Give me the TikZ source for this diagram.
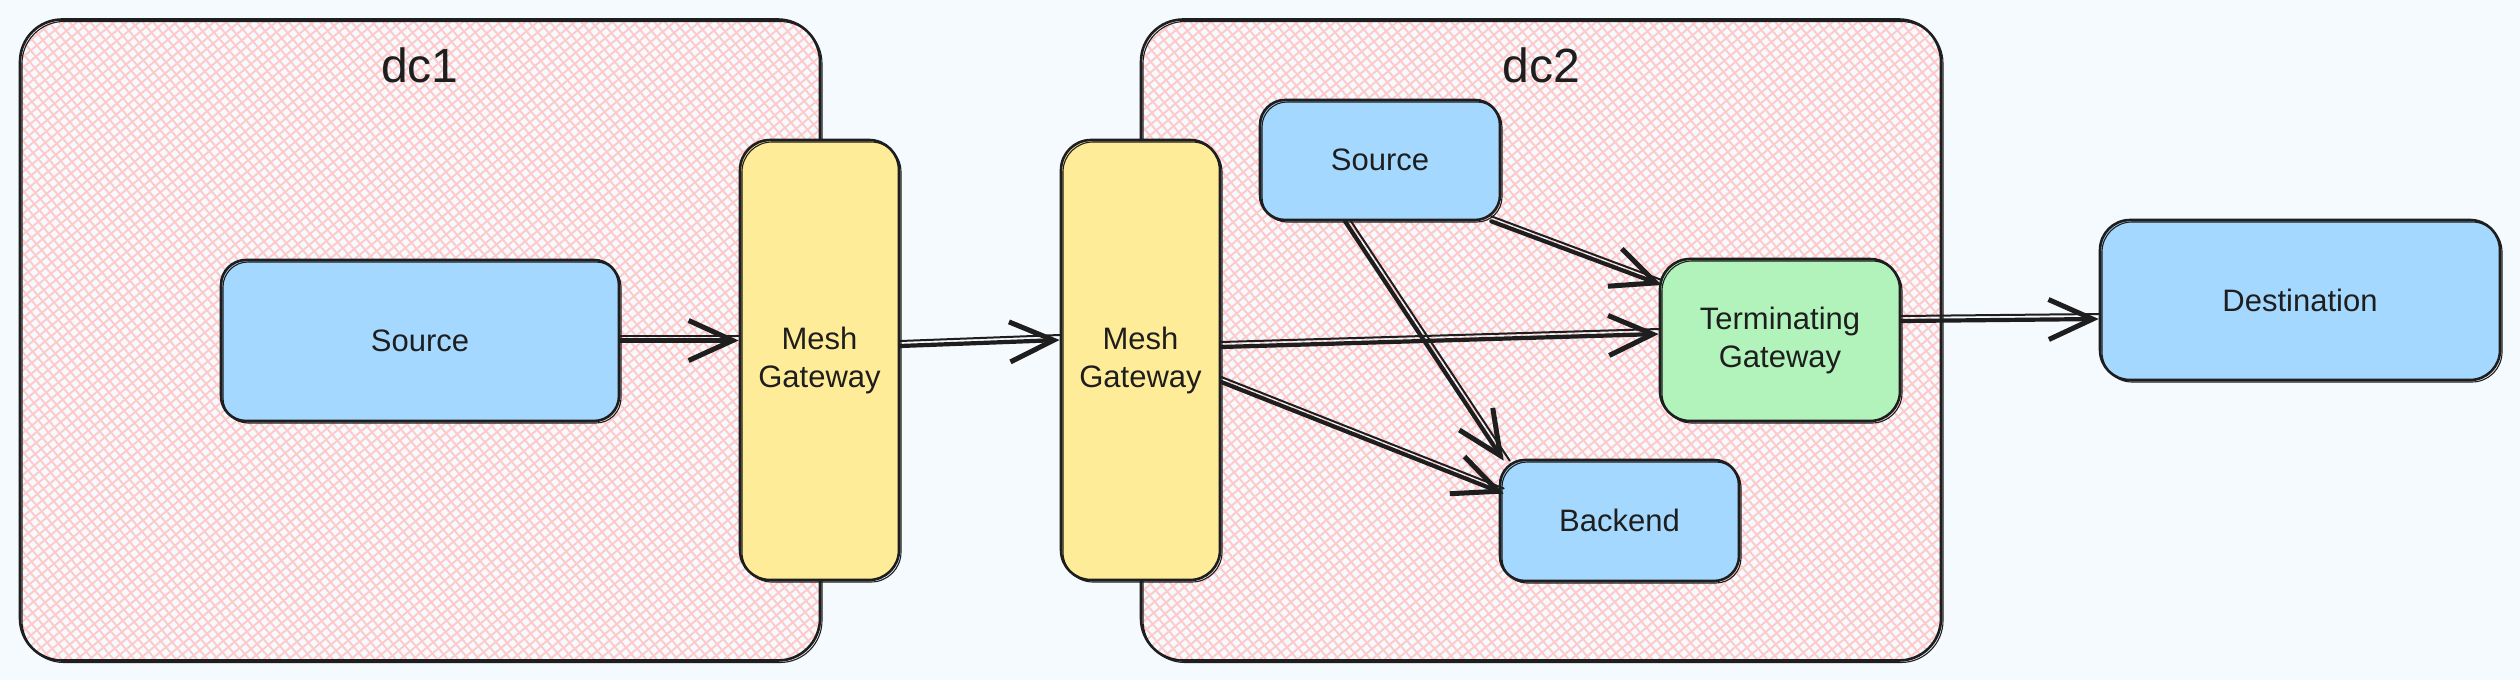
\documentclass[tikz,border=0pt]{standalone}
\usepackage{fontspec}
\setmainfont{Liberation Sans}
\usetikzlibrary{arrows.meta,calc}
\definecolor{ink}{HTML}{1E1E1E}
\definecolor{bg}{HTML}{F5FAFF}
\definecolor{hatchc}{HTML}{FFC9C9}
\definecolor{bluef}{HTML}{A5D8FF}
\definecolor{yellowf}{HTML}{FFEC99}
\definecolor{greenf}{HTML}{B2F2BB}
\newcommand\myhatchfill{%
  \foreach \k in {-70,...,70}{%
    \draw[hatchline] ($(path picture bounding box.center)+({\k*8*0.643-540*0.766},{\k*8*0.766+540*0.643})$) -- ++({1080*0.766},{-1080*0.643});
    \draw[hatchline] ($(path picture bounding box.center)+({\k*8*0.766-540*0.643},{-\k*8*0.643-540*0.766})$) -- ++({1080*0.643},{1080*0.766});
  }%
}
\begin{document}
\begin{tikzpicture}[x=1pt,y=-1pt,
  hatchline/.style={draw=hatchc, line width=1.9pt, sharp corners},
  box/.style={draw=ink, line width=2.6pt, rounded corners=#1, inner sep=0pt, text=ink,
    font=\fontsize{31}{38}\selectfont, align=center,
    postaction={draw=ink, line width=1.1pt, transform canvas={shift={(2pt,-2pt)}}}},
  box/.default=25pt,
  dcbox/.style={box=42pt, minimum width=800pt, minimum height=641pt, path picture={\myhatchfill}},
  lbl/.style={text=ink, font=\fontsize{48}{58}\selectfont, inner sep=0pt},
  arrbase/.style={draw=ink, line width=4.2pt, line cap=round,
    -{Straight Barb[length=44pt,width=40pt,line width=5pt]}},
  arrh/.style={arrbase, postaction={draw=ink, line width=2pt, -, transform canvas={shift={(0pt,5pt)}}}},
  arrv/.style={arrbase, postaction={draw=ink, line width=2pt, -, transform canvas={shift={(6pt,0pt)}}}},
]
\useasboundingbox (0,0) rectangle (2520,680);
\fill[bg] (0,0) rectangle (2520,680);

% clusters
\node[dcbox] (dc1) at (420,340) {};
\node[dcbox] (dc2) at (1541,340) {};
\node[lbl, anchor=base] (l1) at (420,82) {dc1};
\node[lbl, anchor=base] (l2) at (1541,82) {dc2};

% nodes
\node[box, fill=bluef, minimum width=398pt, minimum height=161pt] (s1) at (420,340.5) {Source};
\node[box=30pt, fill=yellowf, minimum width=159pt, minimum height=440pt] (mg1) at (819.5,360) {Mesh\\Gateway};
\node[box=30pt, fill=yellowf, minimum width=159pt, minimum height=440pt] (mg2) at (1140.5,360) {Mesh\\Gateway};
\node[box, fill=bluef, minimum width=240pt, minimum height=120pt] (s2) at (1380,160) {Source};
\node[box=30pt, fill=greenf, minimum width=240pt, minimum height=162pt] (tg) at (1780,340) {Terminating\\Gateway};
\node[box, fill=bluef, minimum width=239pt, minimum height=121pt] (be) at (1619.5,520.5) {Backend};
\node[box=30pt, fill=bluef, minimum width=400pt, minimum height=160pt] (dst) at (2300,300) {Destination};

% connectors
\draw[arrh] (s1.east) -- (s1.east -| mg1.west);
\draw[arrh] ($(mg1.east)+(0,-14)$) -- ($(mg2.west)+(0,-20)$);
\draw[arrh] ($(mg2.east)+(0,-13)$) -- ($(tg.west)+(0,-6)$);
\draw[arrh] ($(mg2.east)+(0,22)$) -- ($(be.west)+(5,-27)$);
\draw[arrv] ($(s2.south)+(-35,0)$) -- ($(be.north west)+(5,2)$);
\draw[arrh] ($(s2.south east)+(-10,0)$) -- ($(tg.west)+(3,-55)$);
\draw[arrh] ($(tg.east)+(0,-19)$) -- ($(dst.west)+(0,19)$);
\end{tikzpicture}
\end{document}
